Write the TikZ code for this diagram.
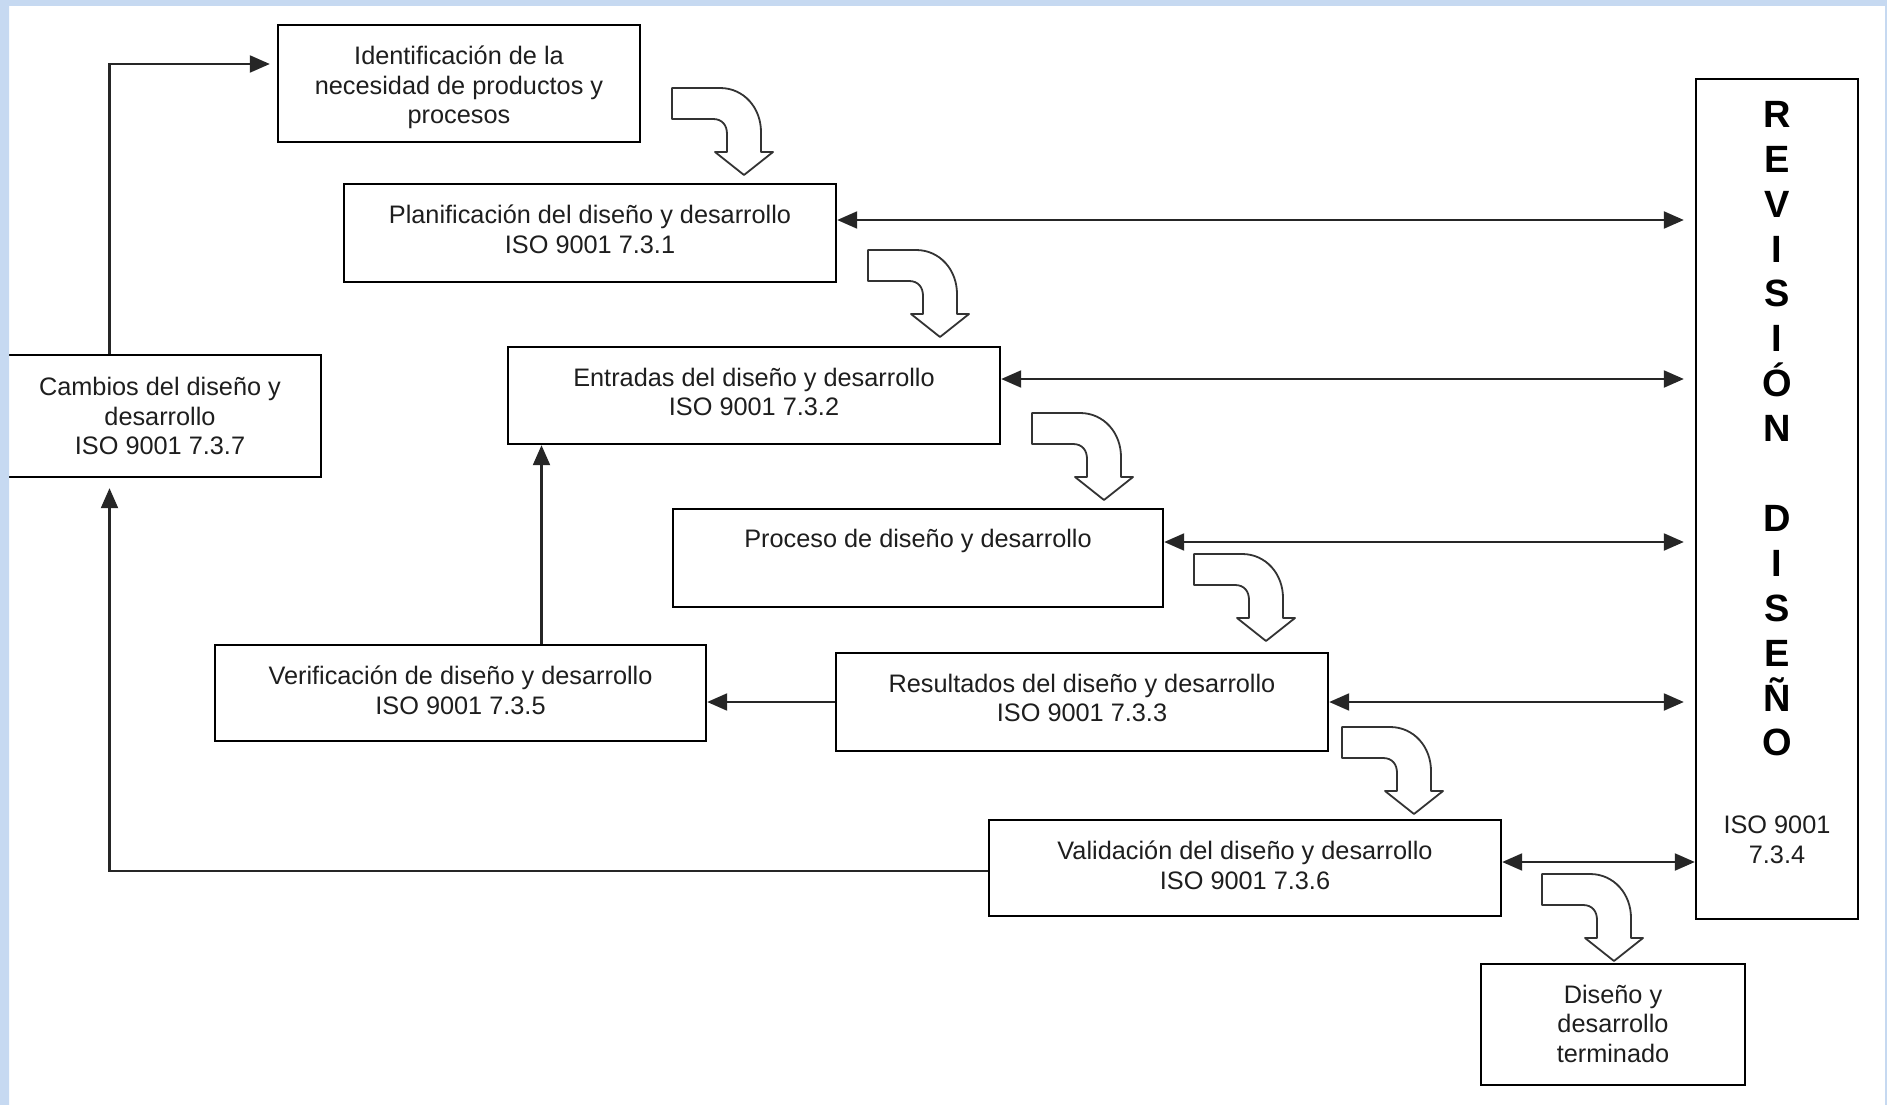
\documentclass[tikz,border=0pt]{standalone}
\usepackage{fontspec}
\setmainfont{Liberation Sans}
\usetikzlibrary{arrows.meta,calc}
\definecolor{framecol}{RGB}{198,217,241}
\definecolor{txtcol}{RGB}{30,30,30}
\begin{document}
\begin{tikzpicture}[x=1pt,y=-1pt,
  box/.style={draw=black, line width=2.4pt, fill=white, inner sep=0pt},
  txt/.style={anchor=north, align=center, inner sep=0pt, font=\fontsize{25.3}{29.5}\selectfont, text=txtcol},
  con/.style={line width=2.2pt, draw=black!85},
  arr/.style={con, -{Triangle[length=20pt,width=17pt]}},
  dbl/.style={con, {Triangle[length=20pt,width=17pt]}-{Triangle[length=20pt,width=17pt]}},
  barrow/.style={draw=black!80, line width=1.8pt, fill=white, line join=round},
  flowbend/.pic={\draw[barrow] (0,0) -- (48,0) .. controls (72,0) and (89,20) .. (89,44) -- (89,64) -- (101,64) -- (72,87) -- (43,64) -- (55,64) -- (55,46) .. controls (55,37) and (50,31) .. (41,31) -- (0,31) -- cycle;}
]
\useasboundingbox (0,0) rectangle (1887,1105);
\fill[white] (0,0) rectangle (1887,1105);

% boxes
\node[box, minimum width=362pt, minimum height=117pt] (A) at (459,83.5) {};
\node[box, minimum width=492pt, minimum height=98pt] (B) at (590,233) {};
\node[box, minimum width=492pt, minimum height=97pt] (C) at (754,395.5) {};
\node[box, minimum width=490pt, minimum height=98pt] (D) at (918,558) {};
\node[box, minimum width=492pt, minimum height=98pt] (E) at (1082,702) {};
\node[box, minimum width=491pt, minimum height=96pt] (F) at (460.5,693) {};
\node[box, minimum width=512pt, minimum height=96pt] (G) at (1245,868) {};
\node[box, minimum width=317pt, minimum height=122pt] (H) at (162.5,416) {};
\node[box, minimum width=264pt, minimum height=121pt] (I) at (1613,1024.5) {};
\node[box, minimum width=162pt, minimum height=840pt] (R) at (1777,499) {};

% texts
\node[txt] (At) at ($(A.north)+(0,22)$) {Identificación de la\\necesidad de productos y\\procesos};
\node[txt] (Bt) at ($(B.north)+(0,22)$) {Planificación del diseño y desarrollo\\ISO 9001 7.3.1};
\node[txt] (Ct) at ($(C.north)+(0,22)$) {Entradas del diseño y desarrollo\\ISO 9001 7.3.2};
\node[txt] (Dt) at ($(D.north)+(0,21)$) {Proceso de diseño y desarrollo};
\node[txt] (Et) at ($(E.north)+(0,22)$) {Resultados del diseño y desarrollo\\ISO 9001 7.3.3};
\node[txt] (Ft) at ($(F.north)+(0,22)$) {Verificación de diseño y desarrollo\\ISO 9001 7.3.5};
\node[txt] (Gt) at ($(G.north)+(0,22)$) {Validación del diseño y desarrollo\\ISO 9001 7.3.6};
\node[txt] (Ht) at (160,377) {Cambios del diseño y\\desarrollo\\ISO 9001 7.3.7};
\node[txt] (It) at ($(I.north)+(0,22)$) {Diseño y\\desarrollo\\terminado};
\node[anchor=north, align=center, inner sep=0pt, text=black, font=\fontsize{38}{44.9}\selectfont\bfseries] (Rt) at (1777,101) {R\\E\\V\\I\\S\\I\\Ó\\N\\[44.9pt]D\\I\\S\\E\\Ñ\\O};
\node[txt] (Rs) at (1777,816) {ISO 9001\\7.3.4};

% connectors
\coordinate (hx) at (109.5,0);
\coordinate (vx) at (541.5,0);
\draw[arr, shorten >=7pt] (H.north -| hx) |- ([yshift=19.5pt]A.west);
\draw[arr, shorten >=10pt] ([yshift=-3pt]G.west) -| (H.south -| hx);
\draw[arr] (E.west) -- (E.west -| F.east);
\draw[arr] (F.north -| vx) -- (C.south -| vx);
\draw[dbl, shorten >=11pt] ([yshift=13pt]B.east) -- ([yshift=13pt]B.east -| R.west);
\draw[dbl, shorten >=11pt] ([yshift=16.5pt]C.east) -- ([yshift=16.5pt]C.east -| R.west);
\draw[dbl, shorten >=11pt] ([yshift=16pt]D.east) -- ([yshift=16pt]D.east -| R.west);
\draw[dbl, shorten >=11pt] (E.east) -- (E.east -| R.west);
\draw[dbl] ([yshift=6pt]G.east) -- ([yshift=6pt]G.east -| R.west);

% bent block arrows
\pic at (672,88) {flowbend};
\pic at (868,250) {flowbend};
\pic at (1032,413) {flowbend};
\pic at (1194,554) {flowbend};
\pic at (1342,727) {flowbend};
\pic at (1542,874) {flowbend};

% frame
\fill[framecol, even odd rule] (0,0) rectangle (1887,1105) (9,6) rectangle (1885,1110);
\end{tikzpicture}
\end{document}
